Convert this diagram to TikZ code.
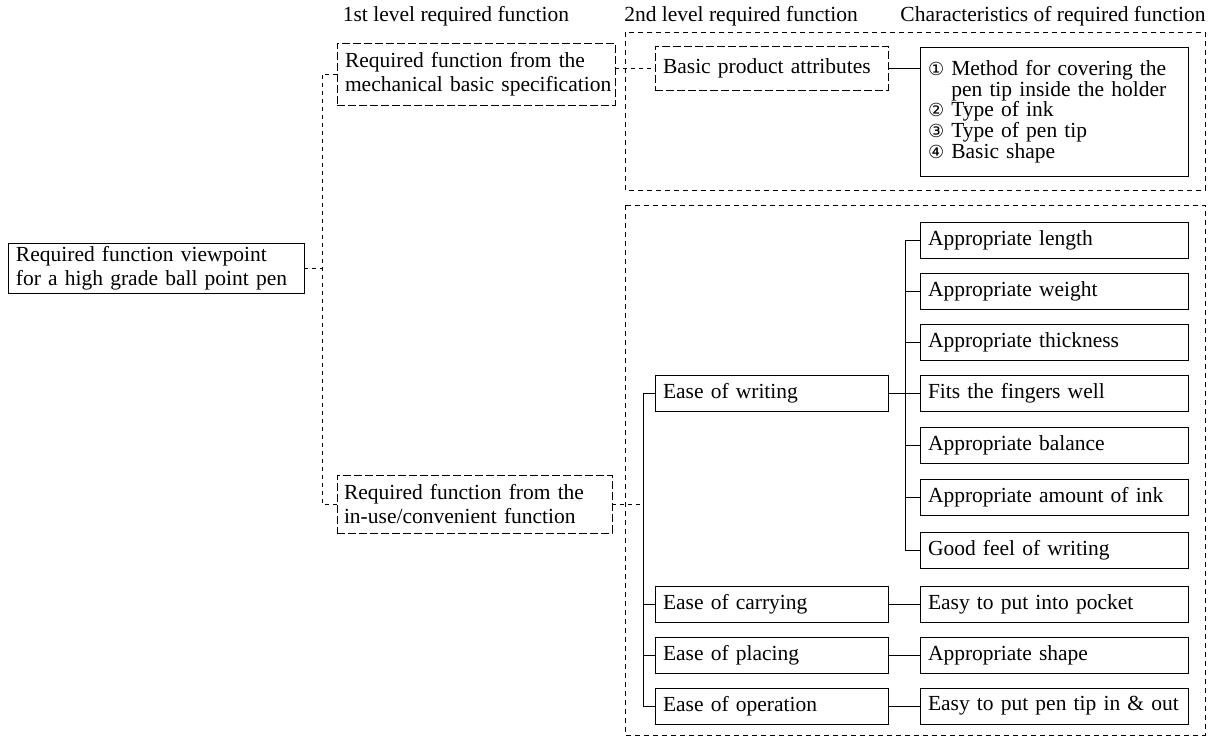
\documentclass[tikz,border=0pt]{standalone}
\usepackage{fontspec}
\setmainfont{Liberation Serif}
\newfontfamily\circfont{DejaVu Sans}
\newcommand{\cnum}[1]{{\circfont\fontsize{18}{18}\selectfont #1}}

\begin{document}
\begin{tikzpicture}[x=1pt,y=-1pt,
    every node/.style={font=\fontsize{21.5}{24}\selectfont},
    box/.style={draw,line width=0.7pt,inner xsep=8pt,inner ysep=3pt,
      text width=#1,align=left,minimum height=36pt},
    box/.default=217pt,
    dbox/.style={box=#1,dash pattern=on 8pt off 3pt},
    frame/.style={draw,line width=0.7pt,dash pattern=on 5pt off 4pt},
    link/.style={draw,line width=0.7pt},
    dlink/.style={link,dash pattern=on 4pt off 4pt}]

  \useasboundingbox (0,0) rectangle (1220,744);

  % column heads
  \node (hd1) at (456,16) {1st level required function};
  \node (hd2) at (741,16) {2nd level required function};
  \node (hd3) at (1053,16) {Characteristics of required function};

  % the two groups
  \draw[frame] (625,32) rectangle (1205,190);
  \draw[frame] (625,205) rectangle (1205,735);

  \node[box=280pt,minimum height=50pt] (root) at (156,268)
    {Required function viewpoint\\for a high grade ball point pen};

  \node[dbox=274pt,inner xsep=2pt,minimum height=62pt] (l1a) at (476,74)
    {\hspace*{6pt}Required function from the\\\hspace*{6pt}mechanical basic specification};
  \node[dbox=261pt,inner xsep=7pt,minimum height=58pt] (l1b) at (474.5,504)
    {Required function from the\\in-use/convenient function};

  \node[dbox,minimum height=44pt] (bpa) at (771.5,68) {Basic product attributes};
  \node[box=252pt,minimum height=129pt,font=\fontsize{21.5}{19.5}\selectfont]
    (ch0) at (1054,111.5)
    {\cnum{①} Method for covering the\\
     \phantom{\cnum{①}\ }pen tip inside the holder\\
     \cnum{②} Type of ink\\
     \cnum{③} Type of pen tip\\
     \cnum{④} Basic shape};

  \node[box] (ew) at (771.5,393) {Ease of writing};
  \node[box] (ec) at (771.5,604) {Ease of carrying};
  \node[box] (ep) at (771.5,655) {Ease of placing};
  \node[box] (eo) at (771.5,706) {Ease of operation};

  \node[box=252pt] (c1) at (1054,240) {Appropriate length};
  \node[box=252pt] (c2) at (1054,291) {Appropriate weight};
  \node[box=252pt] (c3) at (1054,342) {Appropriate thickness};
  \node[box=252pt] (c4) at (1054,393) {Fits the fingers well};
  \node[box=252pt] (c5) at (1054,445) {Appropriate balance};
  \node[box=252pt] (c6) at (1054,497) {Appropriate amount of ink};
  \node[box=252pt] (c7) at (1054,550) {Good feel of writing};
  \node[box=252pt] (c8) at (1054,604) {Easy to put into pocket};
  \node[box=252pt] (c9) at (1054,655) {Appropriate shape};
  \node[box=252pt] (c10) at (1054,706) {Easy to put pen tip in \& out};

  % trunks
  \coordinate (k0) at (322,74);
  \coordinate (k1) at (322,504);
  \coordinate (k2) at (905,0);
  \coordinate (k3) at (643,0);

  \draw[dlink] (l1a.west) -- (k0) -- (k1) -- (l1b.west);
  \draw[dlink] (root.east) -- (root.east -| k0);

  \draw[dlink] (l1a.east |- bpa.west) -- (bpa.west);
  \draw[link] (bpa.east) -- (bpa.east -| ch0.west);

  \draw[dlink] (l1b.east) -- (l1b.east -| k3);
  \draw[link] (ew.west) -- (ew.west -| k3) -- (eo.west -| k3) -- (eo.west);
  \draw[link] (ec.west) -- (ec.west -| k3);
  \draw[link] (ep.west) -- (ep.west -| k3);

  \draw[link] (c1.west) -- (c1.west -| k2) -- (c7.west -| k2) -- (c7.west);
  \draw[link] (c2.west) -- (c2.west -| k2);
  \draw[link] (c3.west) -- (c3.west -| k2);
  \draw[link] (c5.west) -- (c5.west -| k2);
  \draw[link] (c6.west) -- (c6.west -| k2);
  \draw[link] (ew.east) -- (c4.west);

  \draw[link] (ec.east) -- (c8.west);
  \draw[link] (ep.east) -- (c9.west);
  \draw[link] (eo.east) -- (c10.west);

\end{tikzpicture}
\end{document}
